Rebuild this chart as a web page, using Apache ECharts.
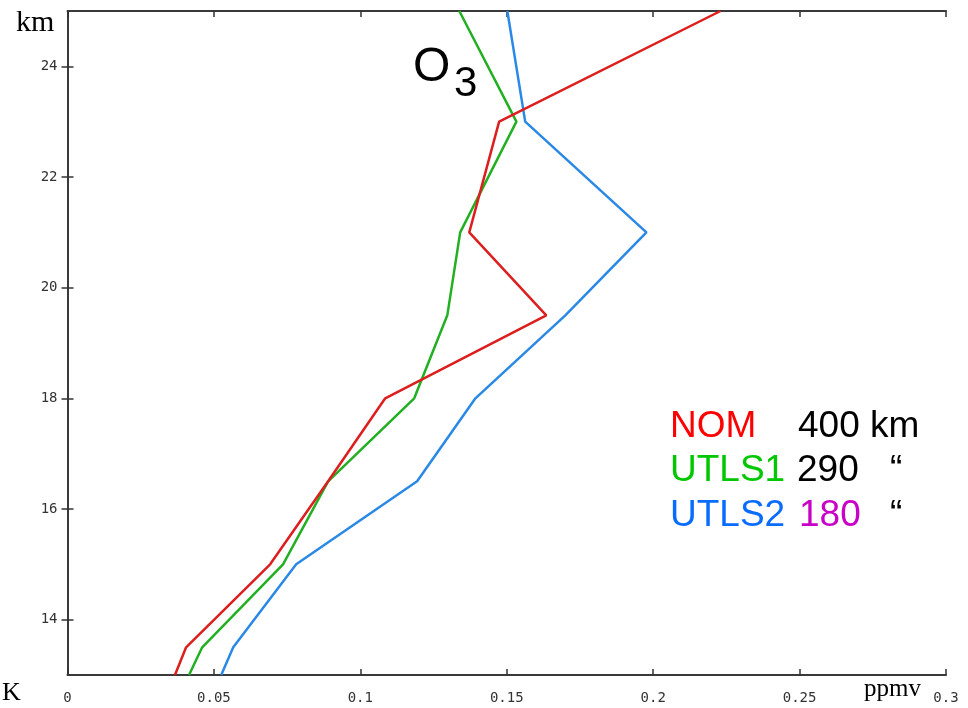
<!DOCTYPE html>
<html>
<head>
<meta charset="utf-8">
<script src="https://cdn.jsdelivr.net/npm/echarts@6/dist/echarts.min.js"></script>
<style>
  html, body { margin: 0; padding: 0; background: #fff; }
  #chart { width: 968px; height: 708px; }
</style>
</head>
<body>
<div id="chart"></div>
<script>
// Ozone mixing ratio profiles (ppmv) against altitude (km)
const altitudes = [13, 13.5, 15, 16.5, 18, 19.5, 21, 23, 25];

const seriesNames = ['NOM', 'UTLS1', 'UTLS2'];
const orbitHeights = ['400 km', '290', '180'];

const nomValues   = [0.0367, 0.0405, 0.0692, 0.0890, 0.1085, 0.1635, 0.1372, 0.1474, 0.2230];
const utls1Values = [0.0415, 0.0460, 0.0736, 0.0890, 0.1184, 0.1297, 0.1341, 0.1533, 0.1338];
const utls2Values = [0.0525, 0.0566, 0.0781, 0.1194, 0.1393, 0.1700, 0.1977, 0.1563, 0.1502];

const xTicks = [0, 0.05, 0.1, 0.15, 0.2, 0.25, 0.3];
const yTicks = [14, 16, 18, 20, 22, 24];

const lineColors = ['#dc1e1e', '#22b022', '#2a88e6'];
const textColors = ['#ff0000', '#00c800', '#0a6cff'];

function pairs(values) {
  return values.map((v, i) => [v, altitudes[i]]);
}

const chart = echarts.init(document.getElementById('chart'), null, { renderer: 'canvas' });

const frame = { show: true, lineStyle: { color: '#3a3a3a', width: 2 } };
const tickFont = { fontFamily: 'DejaVu Sans Mono', fontSize: 14, color: '#333' };
const tickStyle = { color: '#333', width: 1.5 };

const option = {
  backgroundColor: '#fff',
  animation: false,
  grid: { left: 67.5, right: 22, top: 11, bottom: 33, containLabel: false },
  xAxis: [
    {
      type: 'value', min: 0, max: 0.3, interval: 0.05,
      axisLine: frame,
      axisTick: { show: true, inside: true, length: 6, customValues: xTicks, lineStyle: tickStyle },
      axisLabel: Object.assign({ margin: 16, customValues: xTicks }, tickFont),
      splitLine: { show: false }
    },
    {
      type: 'value', position: 'top', min: 0, max: 0.3, interval: 0.05,
      axisLine: frame,
      axisTick: { show: true, inside: true, length: 6, customValues: xTicks, lineStyle: tickStyle },
      axisLabel: { show: false },
      splitLine: { show: false }
    }
  ],
  yAxis: [
    {
      type: 'value', min: 13, max: 25,
      axisLine: frame,
      axisTick: { show: true, inside: true, length: 6, customValues: yTicks, lineStyle: tickStyle },
      axisLabel: Object.assign({ margin: 10, customValues: yTicks }, tickFont),
      splitLine: { show: false }
    },
    {
      type: 'value', position: 'right', min: 13, max: 25,
      axisLine: frame,
      axisTick: { show: true, inside: true, length: 6, customValues: yTicks, lineStyle: tickStyle },
      axisLabel: { show: false },
      splitLine: { show: false }
    }
  ],
  series: [nomValues, utls1Values, utls2Values].map((vals, i) => ({
    name: seriesNames[i],
    type: 'line',
    xAxisIndex: 0,
    yAxisIndex: 0,
    data: pairs(vals),
    symbol: 'none',
    clip: true,
    lineStyle: { color: lineColors[i], width: 2.5 },
    z: 3 - i
  })),
  graphic: [
    { type: 'text', left: 16, top: 8, style: { text: 'km', font: '30px "Liberation Serif"', fill: '#000' } },
    { type: 'text', left: 2, top: 680, style: { text: 'K', font: '26px "Liberation Serif"', fill: '#000' } },
    { type: 'text', left: 864, top: 677, style: { text: 'ppmv', font: '25px "Liberation Serif"', fill: '#000' } },
    { type: 'text', x: 413, y: 68, style: { text: 'O', font: '48px "Liberation Sans"', fill: '#000', verticalAlign: 'middle' } },
    { type: 'text', x: 454, y: 84, style: { text: '3', font: '42px "Liberation Sans"', fill: '#000', verticalAlign: 'middle' } },

    { type: 'text', x: 670, y: 427, style: { text: seriesNames[0], font: '37px "Liberation Sans"', fill: textColors[0], verticalAlign: 'middle' } },
    { type: 'text', x: 798, y: 427, style: { text: orbitHeights[0], font: '37px "Liberation Sans"', fill: '#000', verticalAlign: 'middle' } },

    { type: 'text', x: 670, y: 471, style: { text: seriesNames[1], font: '37px "Liberation Sans"', fill: textColors[1], verticalAlign: 'middle' } },
    { type: 'text', x: 797, y: 471, style: { text: orbitHeights[1], font: '37px "Liberation Sans"', fill: '#000', verticalAlign: 'middle' } },
    { type: 'text', x: 890, y: 471, style: { text: '\u201C', font: '37px "Liberation Sans"', fill: '#000', verticalAlign: 'middle' } },

    { type: 'text', x: 670, y: 516, style: { text: seriesNames[2], font: '37px "Liberation Sans"', fill: textColors[2], verticalAlign: 'middle' } },
    { type: 'text', x: 799, y: 516, style: { text: orbitHeights[2], font: '37px "Liberation Sans"', fill: '#c800c8', verticalAlign: 'middle' } },
    { type: 'text', x: 890, y: 516, style: { text: '\u201C', font: '37px "Liberation Sans"', fill: '#000', verticalAlign: 'middle' } }
  ]
};

chart.setOption(option);
</script>
</body>
</html>
